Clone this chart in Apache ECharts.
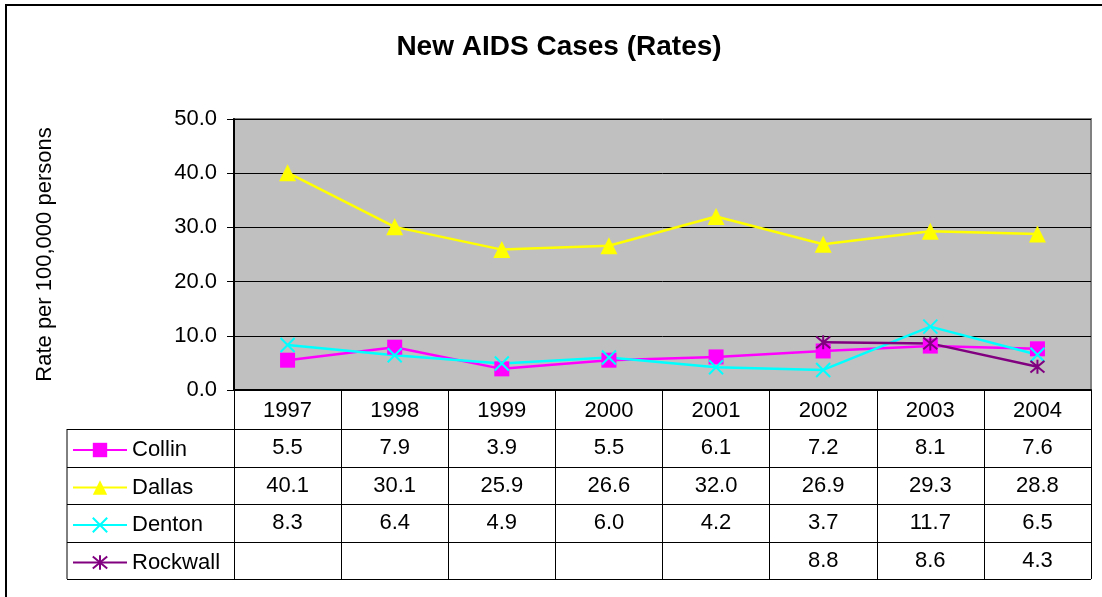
<!DOCTYPE html>
<html>
<head>
<meta charset="utf-8">
<title>New AIDS Cases (Rates)</title>
<script src="https://cdn.jsdelivr.net/npm/echarts@6/dist/echarts.min.js"></script>
<style>
  html, body { margin: 0; padding: 0; background: #fff; }
  #main { width: 1102px; height: 597px; }
</style>
</head>
<body>
<div id="main"></div>
<script>
// data
const years = ['1997', '1998', '1999', '2000', '2001', '2002', '2003', '2004']
const collin = [5.5, 7.9, 3.9, 5.5, 6.1, 7.2, 8.1, 7.6]
const dallas = [40.1, 30.1, 25.9, 26.6, 32.0, 26.9, 29.3, 28.8]
const denton = [8.3, 6.4, 4.9, 6.0, 4.2, 3.7, 11.7, 6.5]
const rockwall = [null, null, null, null, null, 8.8, 8.6, 4.3]
const yTicks = [0, 10, 20, 30, 40, 50]

const FONT = 'Liberation Sans, Arial, sans-serif'

// layout of plot + data table
const plotL = 234
const plotR = 1091
const plotT = 119
const plotB = 390
const legL = 67
const rowLines = [429, 467, 504, 542, 579]

const rows = [
  { name: 'Collin', values: collin, color: '#FF00FF', symbol: 'rect', size: 15 },
  { name: 'Dallas', values: dallas, color: '#FFFF00', symbol: 'triangle', size: 17 },
  { name: 'Denton', values: denton, color: '#00FFFF', symbol: 'path://M0,0L10,10M10,0L0,10', size: 14 },
  { name: 'Rockwall', values: rockwall, color: '#800080', symbol: 'path://M0,0L10,10M10,0L0,10M5,-1L5,11', size: 14 }
]

const chart = echarts.init(document.getElementById('main'))

const colW = (plotR - plotL) / years.length
const graphics = [
  // outer chart border (runs off the page to the right and bottom)
  { type: 'rect', shape: { x: 6, y: 5, width: 1200, height: 700 },
    style: { fill: 'none', stroke: '#000', lineWidth: 2 }, z: 100 },
  { type: 'line', shape: { x1: legL, y1: rowLines[0], x2: legL, y2: rowLines[rowLines.length - 1] },
    style: { stroke: '#000', lineWidth: 1 } }
]
rowLines.forEach(y => {
  graphics.push({ type: 'line', shape: { x1: legL, y1: y + 0.5, x2: plotR, y2: y + 0.5 },
    style: { stroke: '#000', lineWidth: 1 } })
})
rows.forEach((r, i) => {
  const cy = (rowLines[i] + rowLines[i + 1]) / 2
  r.values.forEach((v, j) => {
    if (v == null) return
    graphics.push({ type: 'text', x: plotL + colW * (j + 0.5), y: cy,
      style: { text: v.toFixed(1), font: '22px ' + FONT, fill: '#000', align: 'center', verticalAlign: 'middle' } })
  })
})

chart.setOption({
  animation: false,
  backgroundColor: '#fff',
  title: {
    text: 'New AIDS Cases (Rates)',
    left: 554,
    textAlign: 'center',
    top: 28,
    textStyle: { fontFamily: FONT, fontSize: 28, fontWeight: 'bold', color: '#000' }
  },
  legend: rows.map((r, i) => ({
    data: [r.name],
    left: 72,
    top: (rowLines[i] + rowLines[i + 1]) / 2 - 9,
    padding: 0,
    itemWidth: 54,
    itemHeight: 18,
    itemGap: 0,
    selectedMode: false,
    textStyle: { fontFamily: FONT, fontSize: 22, color: '#000' }
  })),
  grid: {
    left: plotL,
    top: plotT,
    width: plotR - plotL,
    height: plotB - plotT,
    show: true,
    backgroundColor: '#C0C0C0',
    borderColor: '#808080',
    borderWidth: 2
  },
  xAxis: {
    type: 'category',
    data: years,
    boundaryGap: true,
    axisLine: { lineStyle: { color: '#000', width: 2 } },
    axisTick: { show: true, interval: 0, length: rowLines[rowLines.length - 1] - plotB, lineStyle: { color: '#000', width: 1 } },
    axisLabel: { interval: 0, margin: 10, fontFamily: FONT, fontSize: 22, color: '#000' },
    splitLine: { show: false }
  },
  yAxis: {
    type: 'value',
    min: yTicks[0],
    max: yTicks[yTicks.length - 1],
    interval: 10,
    name: 'Rate per 100,000 persons',
    nameLocation: 'middle',
    nameGap: 178,
    nameTextStyle: { fontFamily: FONT, fontSize: 22, color: '#000' },
    axisLine: { show: true, lineStyle: { color: '#000', width: 2 } },
    axisTick: { show: true, length: 7, lineStyle: { color: '#000' } },
    axisLabel: { margin: 17, fontFamily: FONT, fontSize: 22, color: '#000', formatter: v => v.toFixed(1) },
    splitLine: { lineStyle: { color: '#000', width: 1 } }
  },
  series: rows.map(r => ({
    name: r.name,
    type: 'line',
    data: r.values,
    symbol: r.symbol,
    symbolSize: r.size,
    showAllSymbol: true,
    lineStyle: { color: r.color, width: 2.5 },
    itemStyle: r.symbol.startsWith('path')
      ? { color: r.color, borderColor: r.color, borderWidth: 2 }
      : { color: r.color, borderWidth: 0 }
  })),
  graphic: graphics
})
</script>
</body>
</html>
